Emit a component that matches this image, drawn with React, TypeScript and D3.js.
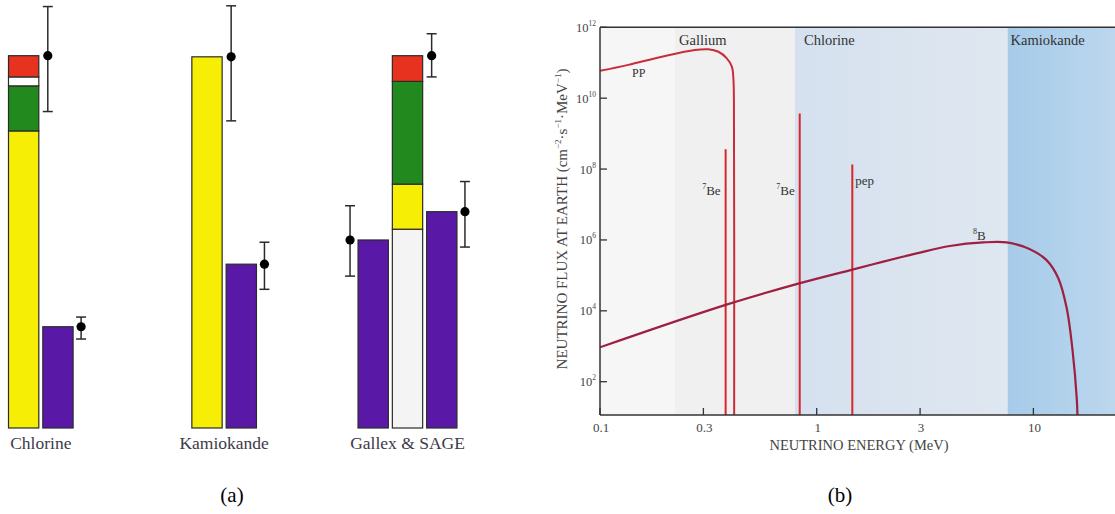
import React from 'react';
import * as d3 from 'd3';

// ---------- Panel (a) data: fractions of the standard-model prediction ----------
const groups = ['Chlorine', 'Kamiokande', 'Gallex & SAGE'];

const chlorineKeys = ['8B', '7Be', 'pep', 'CNO'];
const chlorineStack = [0.798, 0.121, 0.024, 0.057];
const kamiokandeKeys = ['8B'];
const kamiokandeStack = [0.997];
const galliumKeys = ['pp', '8B', '7Be', 'CNO'];
const galliumStack = [0.534, 0.121, 0.276, 0.069];

const theoryErrLow = [0.85, 0.825, 0.943];
const theoryErrHigh = [1.132, 1.134, 1.059];

// measured bars: Chlorine, Kamiokande, Gallex, SAGE
const measuredGroup = ['Chlorine', 'Kamiokande', 'Gallex & SAGE', 'Gallex & SAGE'];
const measuredSlot = [1, 1, 0, 2];
const measuredValues = [0.272, 0.44, 0.505, 0.581];
const measuredErrLow = [0.239, 0.3725, 0.408, 0.486];
const measuredErrHigh = [0.298, 0.499, 0.597, 0.662];

// ---------- Panel (b) data ----------
const ppEnergy = [0.1, 0.135, 0.193, 0.274, 0.316, 0.352, 0.384, 0.406, 0.413, 0.415, 0.416];
const ppLogFlux = [10.77, 10.94, 11.17, 11.36, 11.38, 11.31, 11.13, 10.89, 10.5, 9.9, 0.9];

const b8Energy = [0.1, 0.377, 0.838, 1.476, 2.03, 2.89, 4.12, 5.87, 7.53, 9.64, 11.5, 13.03, 14.25, 15.18, 15.85, 16.0];
const b8LogFlux = [2.97, 4.16, 4.78, 5.17, 5.39, 5.62, 5.83, 5.93, 5.93, 5.74, 5.43, 4.92, 4.07, 2.85, 1.53, 0.9];

const lineEnergy = [0.38, 0.835, 1.46];
const lineLogFlux = [8.56, 9.57, 8.13];
const lineMass = ['7', '7', ''];
const lineName = ['Be', 'Be', 'pep'];

const regionNames = ['', 'Gallium', 'Chlorine', 'Kamiokande'];
const regionStart = [0.1, 0.222, 0.794, 7.6];

const xTicks = [0.1, 0.3, 1, 3, 10];
const xTickLabels = ['0.1', '0.3', '1', '3', '10'];
const yTickExponents = [2, 4, 6, 8, 10, 12];

const W = 1115;
const H = 514;

const colors: Record<string, string> = {
  pp: '#f4f4f4',
  '8B': '#f6ee05',
  '7Be': '#22891f',
  pep: '#ffffff',
  CNO: '#e6321f',
  measured: '#5a18a6',
};

const SERIF = "'Liberation Serif', 'DejaVu Serif', serif";
const ts = { fontFamily: SERIF };

export default function App() {
  // ----- panel (a) scales -----
  const yBar = d3.scaleLinear().domain([0, 1]).range([428, 55.7]);
  const groupX = d3.scalePoint<string>().domain(groups).range([40.8, 407.5]);
  const pitch = 34.3;
  const bw = 30.3;
  const groupCount: Record<string, number> = { Chlorine: 2, Kamiokande: 2, 'Gallex & SAGE': 3 };
  const slotLeft = (g: string, j: number) =>
    (groupX(g) as number) + (j - (groupCount[g] - 1) / 2) * pitch - bw / 2;

  const theoryBars = [
    { g: 'Chlorine', slot: 0, keys: chlorineKeys, vals: chlorineStack, lo: theoryErrLow[0], hi: theoryErrHigh[0], side: 1 },
    { g: 'Kamiokande', slot: 0, keys: kamiokandeKeys, vals: kamiokandeStack, lo: theoryErrLow[1], hi: theoryErrHigh[1], side: 1 },
    { g: 'Gallex & SAGE', slot: 1, keys: galliumKeys, vals: galliumStack, lo: theoryErrLow[2], hi: theoryErrHigh[2], side: 1 },
  ];
  const measuredSide = [1, 1, -1, 1];

  const errMark = (x: number, v: number, lo: number, hi: number, key: string) => (
    <g key={key} stroke="#2b2b2b" strokeWidth={1.5}>
      <line x1={x} x2={x} y1={yBar(hi)} y2={yBar(lo)} />
      <line x1={x - 5} x2={x + 5} y1={yBar(hi)} y2={yBar(hi)} />
      <line x1={x - 5} x2={x + 5} y1={yBar(lo)} y2={yBar(lo)} />
      <circle cx={x} cy={yBar(v)} r={4.6} fill="#000" stroke="none" />
    </g>
  );

  // ----- panel (b) scales -----
  const xE = d3.scaleLog().domain([0.1, 23.8]).range([600, 1115]);
  const yF = d3.scaleLog().domain([11.5, 1e12]).range([415, 27.3]);
  const plotTop = yF(1e12);
  const plotBottom = yF(11.5);
  const plotLeft = xE(0.1);
  const plotRight = xE(23.8);

  const line = d3
    .line<[number, number]>()
    .x((d) => xE(d[0]))
    .y((d) => yF(Math.pow(10, d[1])))
    .curve(d3.curveCatmullRom.alpha(0.5));

  const ppPath = line(ppEnergy.map((e, i) => [e, ppLogFlux[i]] as [number, number])) || '';
  const b8Path = line(b8Energy.map((e, i) => [e, b8LogFlux[i]] as [number, number])) || '';

  const regionFills = ['#f6f6f6', '#f0f0f0', 'url(#clGrad)', 'url(#kaGrad)'];
  const regionLabelDx = [0, 4, 9, 3];

  const yLabelParts: [string, boolean][] = [
    ['NEUTRINO FLUX AT EARTH (cm', false],
    ['−2', true],
    ['·s', false],
    ['−1', true],
    ['·MeV', false],
    ['−1', true],
    [')', false],
  ];

  return (
    <svg
      width={W}
      height={H}
      viewBox={`0 0 ${W} ${H}`}
      style={{ position: 'absolute', left: 0, top: 0, background: '#fff', fontFamily: SERIF }}
    >
      <defs>
        <linearGradient id="clGrad" x1="0" x2="1" y1="0" y2="0">
          <stop offset="0" stopColor="#d5e1ef" />
          <stop offset="1" stopColor="#dfe7f0" />
        </linearGradient>
        <linearGradient id="kaGrad" x1="0" x2="1" y1="0" y2="0">
          <stop offset="0" stopColor="#a6cbe9" />
          <stop offset="1" stopColor="#bcd7ee" />
        </linearGradient>
        <clipPath id="plotClip">
          <rect x={plotLeft} y={plotTop} width={plotRight - plotLeft} height={plotBottom - plotTop} />
        </clipPath>
      </defs>

      {/* ================= Panel (a) ================= */}
      <g>
        {theoryBars.map((b, bi) => {
          const x0 = slotLeft(b.g, b.slot);
          const cum = Array.from(d3.cumsum(b.vals));
          const total = cum[cum.length - 1];
          return (
            <g key={'t' + bi}>
              {b.vals.map((v, i) => {
                const base = i === 0 ? 0 : cum[i - 1];
                return (
                  <rect
                    key={i}
                    x={x0}
                    width={bw}
                    y={yBar(cum[i])}
                    height={yBar(base) - yBar(cum[i])}
                    fill={colors[b.keys[i]]}
                    stroke="#2a2a2a"
                    strokeWidth={1.2}
                  />
                );
              })}
              {errMark(b.side > 0 ? x0 + bw + 9 : x0 - 9, total, b.lo, b.hi, 'te' + bi)}
            </g>
          );
        })}
        {measuredValues.map((v, i) => {
          const x0 = slotLeft(measuredGroup[i], measuredSlot[i]);
          return (
            <g key={'m' + i}>
              <rect
                x={x0}
                width={bw}
                y={yBar(v)}
                height={yBar(0) - yBar(v)}
                fill={colors.measured}
                stroke="#2a2a2a"
                strokeWidth={1.2}
              />
              {errMark(measuredSide[i] > 0 ? x0 + bw + 8 : x0 - 8, v, measuredErrLow[i], measuredErrHigh[i], 'me' + i)}
            </g>
          );
        })}
        {groups.map((g) => (
          <text key={g} x={groupX(g)} y={449} textAnchor="middle" fontSize={17.5} fill="#3b3b48" style={ts}>
            {g}
          </text>
        ))}
      </g>

      {/* ================= Panel (b) ================= */}
      <g>
        {regionStart.map((s, i) => {
          const x0 = xE(s);
          const x1 = i < regionStart.length - 1 ? xE(regionStart[i + 1]) : plotRight;
          return (
            <rect key={'r' + i} x={x0} y={plotTop} width={x1 - x0} height={plotBottom - plotTop} fill={regionFills[i]} />
          );
        })}
        {regionNames.map((n, i) =>
          n ? (
            <text key={'rn' + i} x={xE(regionStart[i]) + regionLabelDx[i]} y={45} fontSize={14.5} fill="#333" style={ts}>
              {n}
            </text>
          ) : null
        )}

        <g clipPath="url(#plotClip)">
          {lineEnergy.map((e, i) => (
            <line
              key={'ln' + i}
              x1={xE(e)}
              x2={xE(e)}
              y1={yF(Math.pow(10, lineLogFlux[i]))}
              y2={plotBottom}
              stroke="#d8262b"
              strokeWidth={2}
            />
          ))}
          <path d={ppPath} fill="none" stroke="#c92d3b" strokeWidth={2} />
          <path d={b8Path} fill="none" stroke="#9e1f42" strokeWidth={2.2} />
        </g>

        {/* line labels */}
        {lineEnergy.map((e, i) =>
          lineMass[i] ? (
            <text key={'ll' + i} x={xE(e) - 5} y={195} textAnchor="end" fontSize={13} fill="#333" style={ts}>
              <tspan fontSize={8} dy={-6}>{lineMass[i]}</tspan>
              <tspan dy={6}>{lineName[i]}</tspan>
            </text>
          ) : (
            <text key={'ll' + i} x={xE(e) + 3} y={185} fontSize={13} fill="#333" style={ts}>
              {lineName[i]}
            </text>
          )
        )}
        <text x={xE(0.1405)} y={77} fontSize={12} fill="#333" style={ts}>PP</text>
        <text x={xE(5.26)} y={240} fontSize={13} fill="#333" style={ts}>
          <tspan fontSize={8} dy={-6}>8</tspan>
          <tspan dy={6}>B</tspan>
        </text>

        {/* axes frame */}
        <g stroke="#333" strokeWidth={1.5} fill="none">
          <line x1={plotLeft} x2={plotLeft} y1={plotTop} y2={plotBottom} />
          <line x1={plotLeft} x2={plotRight} y1={plotBottom} y2={plotBottom} />
          <line x1={plotLeft} x2={plotRight} y1={plotTop} y2={plotTop} />
        </g>

        {/* y ticks */}
        {yTickExponents.map((p) => {
          const y = yF(Math.pow(10, p));
          return (
            <g key={'yt' + p}>
              <line x1={plotLeft} x2={plotLeft + 7} y1={y} y2={y} stroke="#333" strokeWidth={1.3} />
              <text x={596} y={y + 4.5} textAnchor="end" fontSize={12.5} fill="#444" style={ts}>
                10
                <tspan fontSize={7.5} dy={-6}>{p}</tspan>
              </text>
            </g>
          );
        })}

        {/* x ticks */}
        {xTicks.map((t, i) => {
          const x = xE(t);
          return (
            <g key={'xt' + i}>
              <line x1={x} x2={x} y1={plotBottom} y2={plotBottom - 7} stroke="#333" strokeWidth={1.3} />
              <text x={x + 1} y={432} textAnchor="middle" fontSize={13} fill="#444" style={ts}>
                {xTickLabels[i]}
              </text>
            </g>
          );
        })}

        <text x={859} y={450} textAnchor="middle" fontSize={14.5} fill="#444" style={ts}>
          NEUTRINO ENERGY (MeV)
        </text>

        <text transform="translate(567,219) rotate(-90)" textAnchor="middle" fontSize={15} fill="#444" style={ts}>
          {yLabelParts.map(([s, sup], i) => {
            const prevSup = i > 0 && yLabelParts[i - 1][1];
            const dy = sup ? -6 : prevSup ? 6 : 0;
            return (
              <tspan key={i} dy={dy} fontSize={sup ? 9 : 15}>
                {s}
              </tspan>
            );
          })}
        </text>
      </g>

      {/* captions */}
      <text x={232} y={502} textAnchor="middle" fontSize={21} fill="#000" style={ts}>(a)</text>
      <text x={840} y={502} textAnchor="middle" fontSize={21} fill="#000" style={ts}>(b)</text>
    </svg>
  );
}
